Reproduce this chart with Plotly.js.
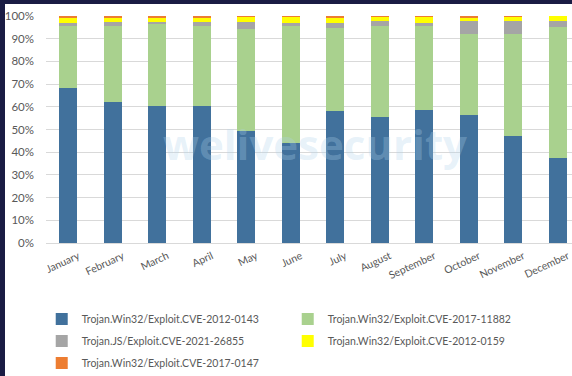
<!DOCTYPE html>
<html>
<head>
<meta charset="utf-8">
<script src="https://cdn.plot.ly/plotly-3.0.1.min.js"></script>
<style>
  html, body { margin: 0; padding: 0; background: #1a1c44; overflow: hidden; width: 572px; height: 376px; }
  #wrap { position: absolute; left: 5px; top: 4px; width: 567px; height: 372px; overflow: hidden; background: #ffffff; }
  #chart { width: 600px; height: 400px; }
</style>
</head>
<body>
<div id="wrap"><div id="chart"></div></div>
<script>
const months = ["January","February","March","April","May","June","July","August","September","October","November","December"];
const seriesNames = [
  "Trojan.Win32/Exploit.CVE-2012-0143",
  "Trojan.Win32/Exploit.CVE-2017-11882",
  "Trojan.JS/Exploit.CVE-2021-26855",
  "Trojan.Win32/Exploit.CVE-2012-0159",
  "Trojan.Win32/Exploit.CVE-2017-0147"
];
const cve20120143 = [68.2, 62.1, 60.4, 60.5, 49.4, 44.2, 58.3, 55.6, 58.6, 56.5, 47.3, 37.6];
const cve201711882 = [27.3, 33.3, 35.9, 34.9, 44.7, 51.2, 36.3, 40.1, 37.1, 35.7, 44.9, 57.7];
const cve202126855 = [1.6, 1.9, 1.0, 1.9, 3.4, 1.6, 2.3, 2.1, 1.3, 5.4, 5.7, 2.6];
const cve20120159 = [1.9, 2.0, 2.0, 2.0, 2.0, 2.4, 2.4, 1.6, 2.4, 1.6, 1.5, 2.0];
const cve20170147 = [1.0, 0.7, 0.7, 0.7, 0.5, 0.6, 0.7, 0.6, 0.6, 0.8, 0.6, 0.1];
const colors = ["#41719c", "#a9d18e", "#a5a5a5", "#ffff00", "#ed7d31"];
const legendRows = ["legend", "legend", "legend2", "legend2", "legend3"];

const allSeries = [cve20120143, cve201711882, cve202126855, cve20120159, cve20170147];
const traces = allSeries.map((vals, i) => ({
  type: "bar",
  name: seriesNames[i],
  x: months,
  y: vals,
  legend: legendRows[i],
  marker: { color: colors[i], line: { width: 0 } },
  hoverinfo: "skip"
}));

function legendRow(yPos) {
  return {
    orientation: "h",
    x: -0.008,
    xanchor: "left",
    y: yPos,
    yanchor: "middle",
    entrywidth: 201,
    entrywidthmode: "pixels",
    itemwidth: 30,
    traceorder: "normal",
    bgcolor: "rgba(0,0,0,0)",
    font: { family: "Lato, 'Liberation Sans', sans-serif", size: 10.5, color: "#595959" }
  };
}

const layout = {
  width: 600,
  height: 400,
  margin: { l: 41, r: 25, t: 12, b: 161 },
  paper_bgcolor: "#ffffff",
  plot_bgcolor: "#ffffff",
  barmode: "stack",
  bargap: 0.6,
  font: { family: "Lato, 'Liberation Sans', sans-serif", size: 11, color: "#595959" },
  xaxis: {
    type: "category",
    tickangle: -25,
    showgrid: false,
    showline: true,
    linecolor: "#d9d9d9",
    linewidth: 1,
    ticks: "",
    ticklabelshift: 10,
    ticklabelstandoff: 2,
    automargin: false,
    tickfont: { size: 10.5, color: "#595959" },
    fixedrange: true
  },
  yaxis: {
    range: [0, 100],
    dtick: 10,
    ticksuffix: "%",
    showgrid: true,
    gridcolor: "#d9d9d9",
    gridwidth: 1,
    zeroline: false,
    showline: false,
    ticks: "",
    automargin: false,
    ticklabelstandoff: 11,
    tickfont: { size: 11.5, color: "#595959" },
    fixedrange: true
  },
  showlegend: true,
  legend: legendRow(-0.3348),
  legend2: legendRow(-0.4317),
  legend3: legendRow(-0.5286),
  annotations: [{
    text: "<b>welivesecurity</b>",
    xref: "paper", yref: "paper",
    x: 0.504, y: 0.44,
    showarrow: false,
    font: { family: "'Open Sans', sans-serif", size: 42, color: "rgba(175,210,235,0.3)" }
  }]
};

Plotly.newPlot("chart", traces, layout, { staticPlot: true, displayModeBar: false });
</script>
</body>
</html>
